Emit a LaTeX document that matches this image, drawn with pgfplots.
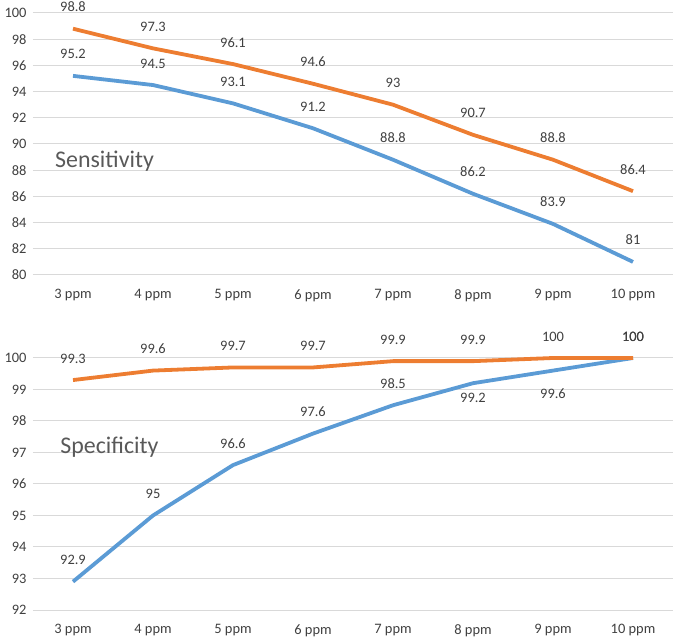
\documentclass[border=0pt]{standalone}
\usepackage{pgfplots}
\pgfplotsset{compat=1.18}
\usepackage{fontspec}
\setmainfont{Carlito}
\definecolor{exblue}{HTML}{5B9BD5}
\definecolor{exorange}{HTML}{ED7D31}
\definecolor{labgray}{HTML}{404040}
\definecolor{tickgray}{HTML}{404040}
\definecolor{titlegray}{HTML}{595959}
\definecolor{gridgray}{HTML}{D9D9D9}
\pgfplotsset{
  excel/.style={
    scale only axis, width=640bp,
    xmin=-0.5, xmax=7.5,
    xtick={0,1,2,3,4,5,6,7},
    xticklabels={3 ppm,4 ppm,5 ppm,6 ppm,7 ppm,8 ppm,9 ppm,10 ppm},
    axis line style={draw=none}, tick style={draw=none},
    ymajorgrids, major grid style={gridgray, line width=1bp},
    ticklabel style={font=\fontsize{14.5}{17}\selectfont, text=tickgray},
    /pgf/number format/assume math mode=true,
    xticklabel style={yshift=-11bp},
    yticklabel style={xshift=-3bp},
    clip=false,
    every axis plot/.append style={line width=3.8bp, line join=round, no markers},
  },
  lababove/.style={draw=none, nodes near coords,
    nodes near coords style={font=\fontsize{14.5}{17}\selectfont, text=labgray, inner sep=0pt, anchor=south, yshift=15bp}},
  labbelow/.style={draw=none, nodes near coords,
    nodes near coords style={font=\fontsize{14.5}{17}\selectfont, text=labgray, inner sep=0pt, anchor=north, yshift=#1}},
}
\begin{document}
\begin{tikzpicture}
\path[use as bounding box] (0,0) rectangle (675bp,641bp);
% Sensitivity
\begin{axis}[excel, at={(33bp,366bp)}, anchor=south west, height=262bp,
  ymin=80, ymax=100, ytick={80,82,...,100}]
\addplot[exblue] coordinates {(0,95.2) (1,94.5) (2,93.1) (3,91.2) (4,88.8) (5,86.2) (6,83.9) (7,81)};
\addplot[exorange] coordinates {(0,98.8) (1,97.3) (2,96.1) (3,94.6) (4,93) (5,90.7) (6,88.8) (7,86.4)};
\addplot[lababove] coordinates {(0,95.2) (1,94.5) (2,93.1) (3,91.2) (4,88.8) (5,86.2) (6,83.9) (7,81)};
\addplot[lababove] coordinates {(0,98.8) (1,97.3) (2,96.1) (3,94.6) (4,93) (5,90.7) (6,88.8) (7,86.4)};
\node[anchor=base west, font=\fontsize{24}{28}\selectfont, text=titlegray, inner sep=0pt] at (axis cs:-0.225,88.24) {Sensitivity};
\end{axis}
% Specificity
\begin{axis}[excel, at={(33bp,31bp)}, anchor=south west, height=252bp,
  ymin=92, ymax=100, ytick={92,93,...,100}]
\addplot[exblue] coordinates {(0,92.9) (1,95) (2,96.6) (3,97.6) (4,98.5) (5,99.2) (6,99.6) (7,100)};
\addplot[exorange] coordinates {(0,99.3) (1,99.6) (2,99.7) (3,99.7) (4,99.9) (5,99.9) (6,100) (7,100)};
\addplot[lababove] coordinates {(0,92.9) (1,95) (2,96.6) (3,97.6) (4,98.5) (7,100)};
\addplot[labbelow=-8bp] coordinates {(5,99.2)};
\addplot[labbelow=-16bp] coordinates {(6,99.6)};
\addplot[lababove] coordinates {(0,99.3) (1,99.6) (2,99.7) (3,99.7) (4,99.9) (5,99.9) (6,100) (7,100)};
\node[anchor=base west, font=\fontsize{24}{28}\selectfont, text=titlegray, inner sep=0pt] at (axis cs:-0.16,96.98) {Specificity};
\end{axis}
\end{tikzpicture}
\end{document}
